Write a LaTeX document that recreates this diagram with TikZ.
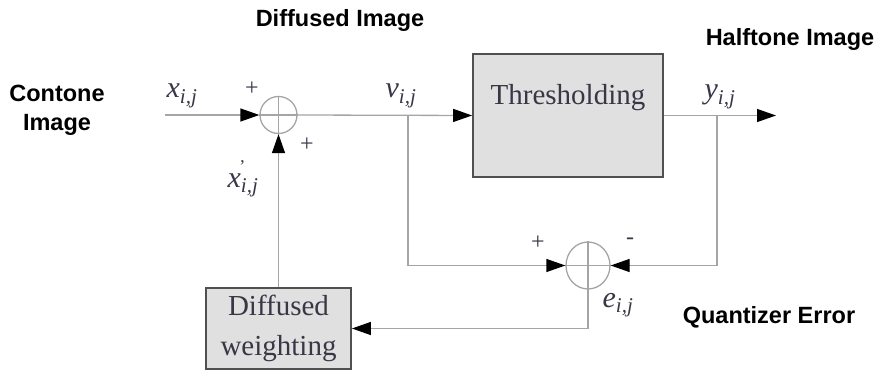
\documentclass[tikz,border=0pt]{standalone}
\usepackage{fontspec}
\setmainfont{Liberation Serif}
\setsansfont{Liberation Sans}
\usetikzlibrary{arrows.meta,shapes.geometric}
\definecolor{linegray}{RGB}{165,165,165}
\definecolor{boxfill}{RGB}{224,224,224}
\definecolor{boxedge}{RGB}{80,80,80}
\definecolor{symcol}{RGB}{55,55,70}
\newcommand{\sym}[1]{\textit{#1}\textsubscript{\textit{i,j}}}
\begin{document}
\begin{tikzpicture}[x=1pt,y=-1pt,
  conn/.style={draw=linegray,line width=1.3pt},
  arr/.style={conn,-{Triangle[length=19pt,width=13pt,fill=black,color=black]}},
  summer/.style={ellipse,draw=linegray,line width=1.3pt,inner sep=0pt},
  blockbox/.style={rectangle,draw=boxedge,line width=1.8pt,fill=boxfill,inner sep=0pt},
  blocktext/.style={font=\fontsize{29}{40}\selectfont,text=symcol,align=center},
  caption/.style={font=\sffamily\bfseries\fontsize{23.5}{28}\selectfont,align=center},
  symlabel/.style={font=\fontsize{30}{32}\selectfont,text=symcol},
  sign/.style={font=\fontsize{24}{26}\selectfont,text=symcol}]
\useasboundingbox (0,0) rectangle (879,371);
% blocks
\node[summer,minimum width=37pt,minimum height=37pt] (s1) at (278.5,115) {};
\node[summer,minimum width=44pt,minimum height=47pt] (s2) at (588,265.5) {};
\node[blockbox,minimum width=190pt,minimum height=123pt] (thr) at (568,115.5) {};
\node[blocktext] (thrt) at (568,98) {Thresholding};
\node[blockbox,blocktext,minimum width=145pt,minimum height=81pt] (dw) at (278.5,328.5) {Diffused\\weighting};
% coordinates
\coordinate (in) at (165,115);
\coordinate (out) at (776,115.5);
\coordinate (vtap) at (408,115);
\coordinate (ytap) at (717,115.5);
% crosses in summers
\draw[conn] (s1.north) -- (s1.south) (s1.west) -- (s1.east);
\draw[conn] (s2.north) -- (s2.south) (s2.west) -- (s2.east);
% connectors
\draw[arr] (in) -- (s1.west);
\draw[arr] (s1.east) -- (thr.west);
\draw[arr] (thr.east) -- (out);
\draw[arr] (vtap) |- (s2.west);
\draw[arr] (ytap) |- (s2.east);
\draw[arr] (s2.south) |- (dw.east);
\draw[arr] (dw.north) -- (s1.south);
% symbol labels
\node[symlabel] (lx) at (182,96) {\sym{x}};
\node[symlabel] (lv) at (401,96) {\sym{v}};
\node[symlabel] (ly) at (720,97) {\sym{y}};
\node[symlabel] (le) at (618,305) {\sym{e}};
\node[symlabel] (lxp) at (243,179) {\textit{x}\makebox[0pt][l]{\raisebox{1.1ex}{\kern-0.05em\fontsize{18}{18}\selectfont'}}\textsubscript{\textit{i,j}}};
% signs
\node[sign] (p1) at (252,89) {+};
\node[sign] (p2) at (307,145) {+};
\node[sign] (p3) at (538,243) {+};
\node[sign] (m1) at (630,241) {-};
% captions
\node[caption] (c1) at (340,20) {Diffused Image};
\node[caption] (c2) at (790,39) {Halftone Image};
\node[caption] (c3) at (57,110) {Contone\\[1pt]Image};
\node[caption] (c4) at (769,317) {Quantizer Error};
\end{tikzpicture}
\end{document}
